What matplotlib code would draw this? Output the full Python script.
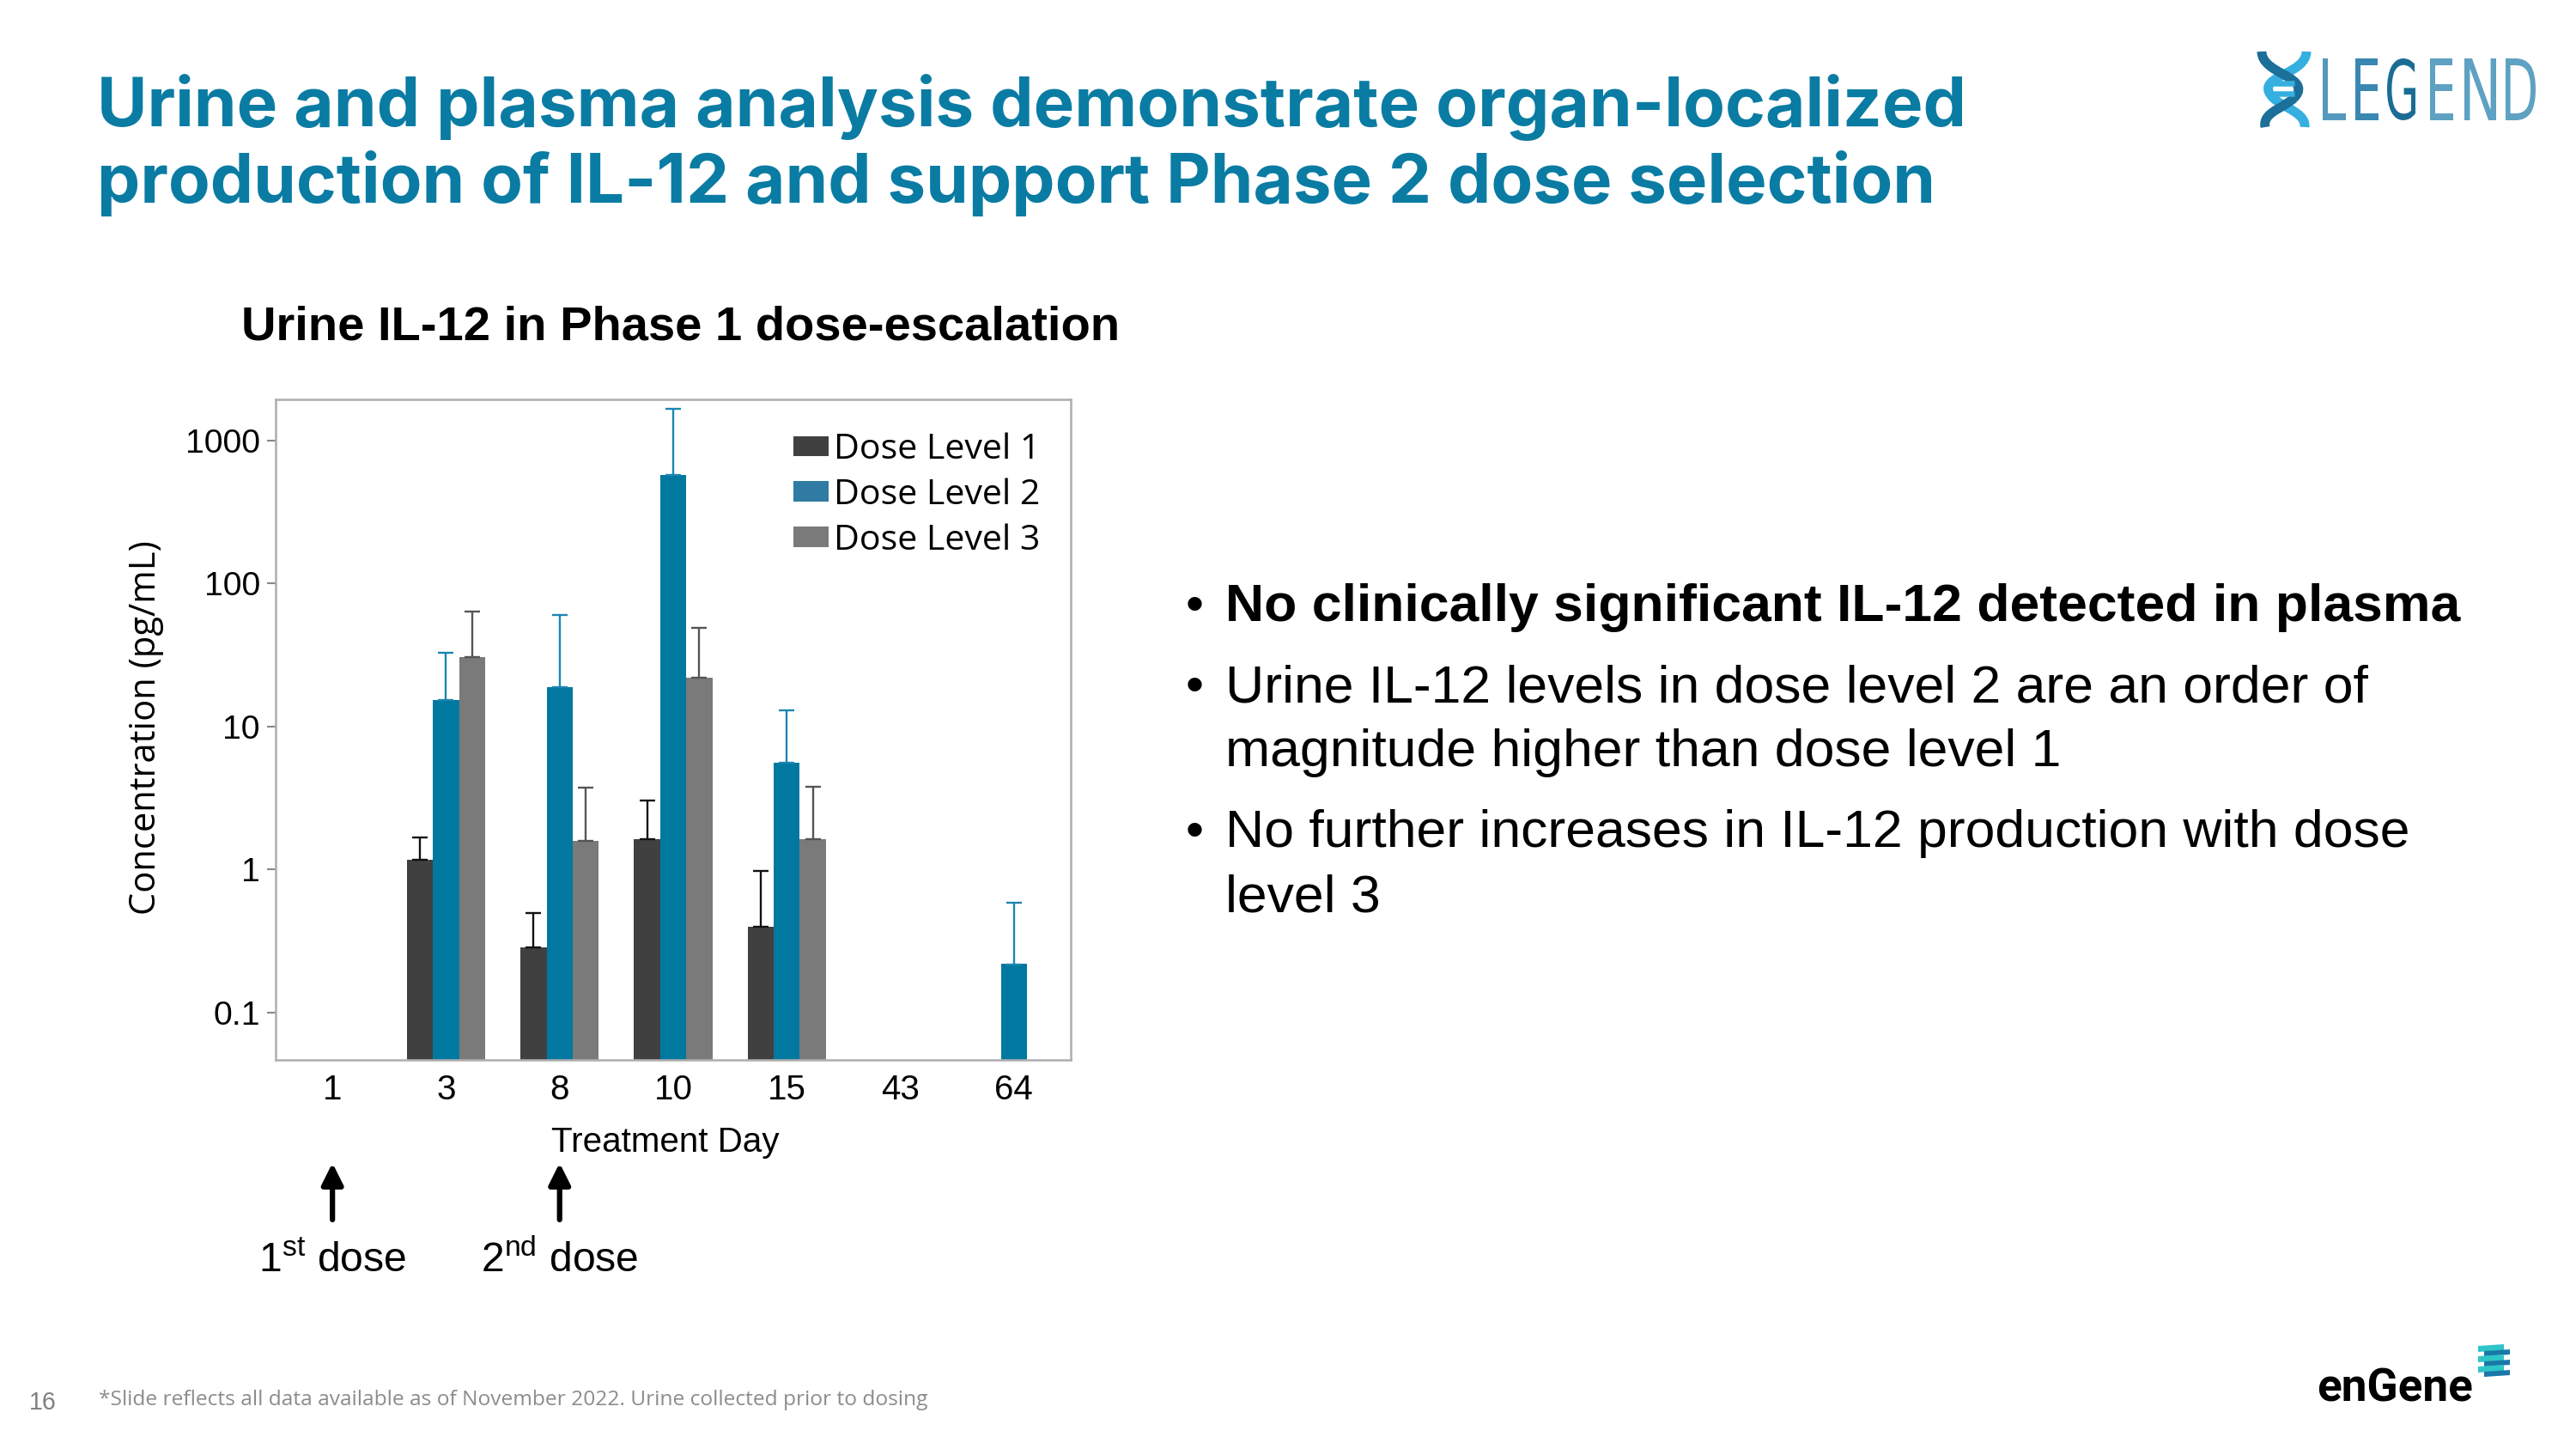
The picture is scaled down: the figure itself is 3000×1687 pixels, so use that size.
import numpy as np
import matplotlib
matplotlib.use('Agg')
import matplotlib.pyplot as plt
from matplotlib.textpath import TextPath
from matplotlib.patches import PathPatch, Polygon, Patch
from matplotlib.font_manager import FontProperties
from matplotlib.path import Path
import matplotlib.transforms as mtrans

plt.rcParams['mathtext.fontset'] = 'custom'
plt.rcParams['mathtext.rm'] = 'Liberation Sans'
plt.rcParams['mathtext.it'] = 'Liberation Sans:italic'
plt.rcParams['mathtext.bf'] = 'Liberation Sans:bold'

nan = np.nan
# ---------------- data ----------------
days = ['1', '3', '8', '10', '15', '43', '64']
series_names = ['Dose Level 1', 'Dose Level 2', 'Dose Level 3']
dose1 = [nan, 1.16, 0.284, 1.62, 0.396, nan, nan]
dose1_upper = [nan, 1.66, 0.495, 3.03, 0.98, nan, nan]
dose2 = [nan, 15.3, 18.8, 573, 5.56, nan, 0.217]
dose2_upper = [nan, 32.6, 60.3, 1672, 13.0, nan, 0.585]
dose3 = [nan, 30.5, 1.59, 21.9, 1.62, nan, nan]
dose3_upper = [nan, 63.4, 3.73, 49.2, 3.8, nan, nan]
ytick_vals = [0.1, 1, 10, 100, 1000]
ytick_labels = ['0.1', '1', '10', '100', '1000']
dose_days = ['1', '8']
dose_labels = [r'1$^{\mathrm{st}}$ dose', r'2$^{\mathrm{nd}}$ dose']

title_lines = ['Urine and plasma analysis demonstrate organ-localized',
               'production of IL-12 and support Phase 2 dose selection']
chart_title = 'Urine IL-12 in Phase 1 dose-escalation'
bullets = [(['No clinically significant IL-12 detected in plasma'], True),
           (['Urine IL-12 levels in dose level 2 are an order of',
             'magnitude higher than dose level 1'], False),
           (['No further increases in IL-12 production with dose',
             'level 3'], False)]
footnote = '*Slide reflects all data available as of November 2022. Urine collected prior to dosing'

colors = ['#404040', '#00789f', '#7a7a7a']
err_colors = ['#111111', '#1a86b0', '#555555']
TEAL = '#0a7ca3'

# ---------------- figure ----------------
W, H = 3000, 1687
DPI = 187.5
fig = plt.figure(figsize=(W / DPI, H / DPI), dpi=DPI)
fig.patch.set_facecolor('white')
renderer = fig.canvas.get_renderer()


def fx(x):
    return x / W


def fy(y):
    return 1 - y / H


def fit(t, target_w):
    bb = t.get_window_extent(renderer)
    t.set_fontsize(t.get_fontsize() * target_w / bb.width)


# title
t1 = fig.text(fx(113), fy(147), title_lines[0], family='Inter', weight='bold',
              color=TEAL, fontsize=30, va='baseline', ha='left')
fit(t1, 2292 - 113)
t2 = fig.text(fx(113), fy(236), title_lines[1], family='Inter', weight='bold',
              color=TEAL, fontsize=30, va='baseline', ha='left')
fit(t2, 2256 - 113)

# chart title
ct = fig.text(fx(281), fy(396), chart_title, family='Liberation Sans', weight='bold',
              color='black', fontsize=21.5, va='baseline', ha='left')
fit(ct, 1303 - 281)

# ---------------- axes ----------------
ax = fig.add_axes([321 / W, fy(1234), 926 / W, 769 / H])
ax.set_yscale('log')
x = np.arange(len(days))
bw = 0.23
vals = [dose1, dose2, dose3]
uppers = [dose1_upper, dose2_upper, dose3_upper]
for i, (v, u) in enumerate(zip(vals, uppers)):
    v = np.array(v, dtype=float)
    u = np.array(u, dtype=float)
    xi = x + (i - 1) * bw
    m = ~np.isnan(v)
    ax.bar(xi[m], v[m], width=bw, bottom=1e-3, color=colors[i], label=series_names[i],
           zorder=2)
    me = m & ~np.isnan(u)
    ax.errorbar(xi[me], v[me], yerr=[np.zeros(me.sum()), u[me] - v[me]], fmt='none',
                ecolor=err_colors[i], elinewidth=0.9, capsize=3.5, capthick=0.9, zorder=3)

ax.set_xlim(-0.5, len(days) - 0.5)
ax.set_ylim(0.0464, 1940)
ax.set_xticks(x)
ax.set_xticklabels(days, family='Liberation Sans', fontsize=15.5)
ax.tick_params(axis='x', length=0, pad=6)
ax.set_yticks(ytick_vals)
ax.set_yticklabels(ytick_labels, family='Liberation Sans', fontsize=15)
ax.yaxis.set_minor_locator(matplotlib.ticker.NullLocator())
ax.tick_params(axis='y', length=4, width=0.8, color='#888888', pad=3)
for s in ax.spines.values():
    s.set_color('#b0b0b0')
    s.set_linewidth(1.0)

handles = [Patch(facecolor=colors[0]), Patch(facecolor='#2f7ba3'), Patch(facecolor=colors[2])]
ax.legend(handles, series_names, loc='upper right', bbox_to_anchor=(0.962, 0.95),
          frameon=False, prop=FontProperties(family='Open Sans', size=15.8),
          handlelength=1.0, handleheight=0.5, handletextpad=0.15, labelspacing=0.3,
          borderaxespad=0, borderpad=0)

# y label
fig.text(fx(170), fy(847), 'Concentration (pg/mL)', family='Open Sans', fontsize=16,
         rotation=90, ha='center', va='center')
# x label
fig.text(fx(775), fy(1341), 'Treatment Day', family='Liberation Sans', fontsize=15.5,
         ha='center', va='baseline')

# dose arrows
blend = mtrans.blended_transform_factory(ax.transData, fig.transFigure)
for d, lab in zip(dose_days, dose_labels):
    xd = days.index(d)
    ax.annotate('', xy=(xd, fy(1354)), xycoords=blend, xytext=(xd, fy(1420)),
                textcoords=blend,
                arrowprops=dict(arrowstyle='-|>', lw=2.4, color='black', mutation_scale=20,
                                shrinkA=0, shrinkB=0), annotation_clip=False)
    fig.text(xd, fy(1481), lab, transform=blend, family='Liberation Sans', fontsize=18.5,
             ha='center', va='baseline')

# bullets
line_baselines = [[723], [817, 892], [986, 1061]]
for (lines, bold), ybs in zip(bullets, line_baselines):
    fig.text(fx(1381), fy(ybs[0]), '\u2022', family='Liberation Sans', fontsize=23,
             va='baseline', ha='left')
    for ln, yb in zip(lines, ybs):
        fig.text(fx(1427), fy(yb), ln, family='Liberation Sans', fontsize=24,
                 weight='bold' if bold else 'normal', va='baseline', ha='left')

# footnote
fig.text(fx(34), fy(1641), '16', family='Liberation Sans', fontsize=11, color='#7f7f7f',
         va='baseline', ha='left')
ft = fig.text(fx(115), fy(1636), footnote, family='Open Sans', fontsize=9.5,
              color='#8c8c8c', va='baseline', ha='left')
fit(ft, 1081 - 115)

# ---------------- LEGEND logo ----------------
letters = 'LEGEND'
boxes = [(2705, 2732), (2743, 2770), (2780, 2813), (2830, 2857), (2870, 2907), (2918, 2953)]
lcols = ['#5499bd', '#3a88b2', '#1b6c95', '#5ea1c2', '#5ea1c2', '#5ea1c2']
fp = FontProperties(family='DejaVu Sans', weight='normal')
for ch, (x0, x1), c in zip(letters, boxes, lcols):
    tp = TextPath((0, 0), ch, size=10, prop=fp)
    ext = tp.get_extents()
    sx = (x1 - x0) / ext.width
    sy = (140 - 68) / ext.height
    tr = (mtrans.Affine2D().translate(-ext.x0, -ext.y0).scale(sx, sy)
          .translate(x0, H - 140))
    path = tr.transform_path(tp)
    fig.patches.append(PathPatch(path, transform=mtrans.IdentityTransform(),
                                 facecolor=c, edgecolor='none'))


def pix_path(pts, codes):
    return Path([(px, H - py) for px, py in pts], codes)


C = Path.CURVE4
dark = pix_path([(2634, 60), (2634, 85), (2684, 88), (2676, 108),
                 (2668, 125), (2634, 128), (2638, 148)],
                [Path.MOVETO, C, C, C, C, C, C])
light = pix_path([(2686, 60), (2686, 85), (2636, 88), (2642, 106),
                  (2648, 124), (2686, 128), (2684, 148)],
                 [Path.MOVETO, C, C, C, C, C, C])
fig.patches.append(PathPatch(light, transform=mtrans.IdentityTransform(), facecolor='none',
                             edgecolor='#35afe0', lw=4.2, capstyle='butt'))
fig.patches.append(PathPatch(dark, transform=mtrans.IdentityTransform(), facecolor='none',
                             edgecolor='#1b6f98', lw=4.2, capstyle='butt'))
for yy in (97, 109):
    rung = pix_path([(2648, yy), (2672, yy)], [Path.MOVETO, Path.LINETO])
    fig.patches.append(PathPatch(rung, transform=mtrans.IdentityTransform(),
                                 edgecolor='#35afe0', lw=2.5))

# ---------------- enGene logo ----------------
eg = fig.text(fx(2698), fy(1632), 'enGene', family='Roboto', weight='bold', fontsize=18,
              color='black', va='baseline', ha='left')
fit(eg, 2880 - 2698)
for k in range(3):
    y0 = 1567 + k * 12
    teal = [(2886, y0), (2916, y0 - 2), (2916, y0 + 5), (2886, y0 + 7)]
    blue = [(2893, y0 + 6), (2923, y0 + 4), (2923, y0 + 10), (2893, y0 + 12)]
    fig.patches.append(Polygon([(a, H - b) for a, b in teal], closed=True,
                               transform=mtrans.IdentityTransform(), facecolor='#2ec5c9',
                               edgecolor='none'))
    fig.patches.append(Polygon([(a, H - b) for a, b in blue], closed=True,
                               transform=mtrans.IdentityTransform(), facecolor='#1a78a8',
                               edgecolor='none'))

fig.savefig('out.png', dpi=DPI, facecolor='white')
